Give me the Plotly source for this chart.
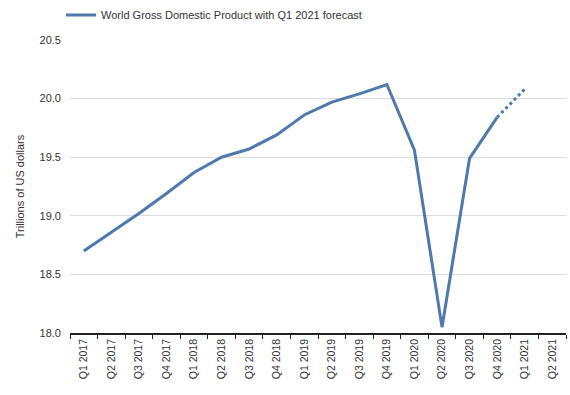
import plotly.graph_objects as go

quarters = ["Q1 2017", "Q2 2017", "Q3 2017", "Q4 2017", "Q1 2018", "Q2 2018",
            "Q3 2018", "Q4 2018", "Q1 2019", "Q2 2019", "Q3 2019", "Q4 2019",
            "Q1 2020", "Q2 2020", "Q3 2020", "Q4 2020", "Q1 2021", "Q2 2021"]
gdp_actual = [18.70, 18.86, 19.02, 19.19, 19.37, 19.50, 19.57, 19.69,
              19.86, 19.97, 20.04, 20.12, 19.56, 18.05, 19.49, 19.84]
forecast_x = ["Q4 2020", "Q1 2021"]
forecast_y = [19.84, 20.08]

color = "#4f78ad"
fig = go.Figure()
fig.add_trace(go.Scatter(
    x=quarters[:len(gdp_actual)], y=gdp_actual, mode="lines",
    line=dict(color=color, width=3),
    name="World Gross Domestic Product with Q1 2021 forecast"))
fig.add_trace(go.Scatter(
    x=forecast_x, y=forecast_y, mode="lines",
    line=dict(color=color, width=3, dash="dot"), showlegend=False))

fig.update_layout(
    width=570, height=395,
    margin=dict(l=70, r=4, t=40, b=62, autoexpand=False),
    paper_bgcolor="white", plot_bgcolor="white",
    font=dict(family="Liberation Sans, Arial, sans-serif", size=11, color="#333333"),
    legend=dict(orientation="h", x=0.107, y=0.962, xref="container", yref="container",
                xanchor="left", yanchor="middle",
                font=dict(size=11, color="#333333"), itemwidth=30),
    xaxis=dict(type="category", categoryorder="array", categoryarray=quarters,
               range=[-0.5, len(quarters) - 0.5],
               tickson="boundaries", ticks="outside", ticklen=4, tickcolor="#222222",
               showline=True, linecolor="#222222", linewidth=1.5,
               tickangle=-90, tickfont=dict(size=10.5, color="#333333"),
               showgrid=False),
    yaxis=dict(range=[18.0, 20.5], dtick=0.5, tickformat=".1f",
               showgrid=True, gridcolor="#dddddd", gridwidth=1,
               zeroline=False, showline=False, ticks="",
               ticklabelstandoff=8,
               tickfont=dict(size=11, color="#333333"),
               title=dict(text="Trillions of US dollars", font=dict(size=11, color="#333333"),
                          standoff=12)),
)
fig.write_html("out.html")
